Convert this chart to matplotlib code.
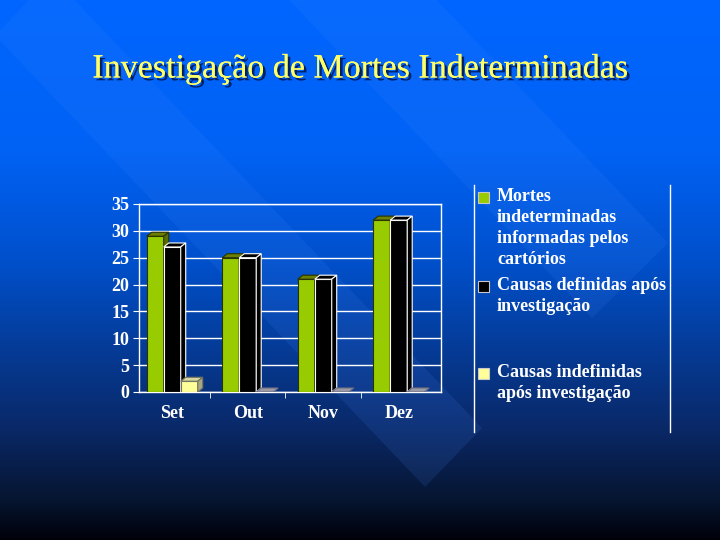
import numpy as np
import matplotlib
matplotlib.use('agg')
import matplotlib.pyplot as plt
from matplotlib.patches import Polygon, Rectangle
import matplotlib.patheffects as pe

# data
months = ['Set', 'Out', 'Nov', 'Dez']
mortes_cartorios = [29, 25, 21, 32]
causas_definidas = [27, 25, 21, 32]
causas_indefinidas = [2, 0, 0, 0]
series_names = ['Mortes\nindeterminadas\ninformadas pelos\ncartórios',
                'Causas definidas após\ninvestigação',
                'Causas indefinidas\napós investigação']
front_colors = ['#99cc00', '#000000', '#ffff99']
top_colors = ['#6b8000', '#000000', '#d6d6a0']
side_colors = ['#5a6b00', '#000000', '#a8a880']
edge_colors = ['#2b3300', '#ffffff', '#707060']

serif = 'Liberation Serif'
fig = plt.figure(figsize=(7.2, 5.4), dpi=100)

# slide background
bg = fig.add_axes([0, 0, 1, 1])
bg.set_xlim(0, 720)
bg.set_ylim(540, 0)
bg.axis('off')
ys = np.arange(540)
stops_y = [0, 150, 260, 430, 500, 540]
stops_c = np.array([[0, 102, 255], [0, 98, 245], [0, 80, 204],
                    [10, 40, 102], [6, 21, 48], [0, 0, 8]]) / 255
grad = np.stack([np.interp(ys, stops_y, stops_c[:, k]) for k in range(3)], axis=1)
img = np.repeat(grad[:, None, :], 720, axis=1)
bg.imshow(img, extent=(0, 720, 540, 0), aspect='auto', zorder=0)

# light diagonal stripes
for cap1, cap2, length in [((425, 487), (482, 428), 430), ((592, 318), (668, 243), 380)]:
    d = np.array([-1.0, -1.05]) * length
    pts = [cap1, cap2, (cap2[0] + d[0], cap2[1] + d[1]), (cap1[0] + d[0], cap1[1] + d[1])]
    bg.add_patch(Polygon(pts, closed=True, facecolor='#4a8cff', edgecolor='none',
                         alpha=0.12, zorder=1))

# title
bg.text(360, 69, 'Investigação de Mortes Indeterminadas', ha='center', va='center',
        fontsize=24.5, color='#ffff66', family=serif, zorder=5,
        path_effects=[pe.withSimplePatchShadow(offset=(2, -2), shadow_rgbFace='#001040', alpha=0.8),
                      pe.Normal()])

# chart area
ax = fig.add_axes([139 / 720, (540 - 392) / 540, 302 / 720, 188 / 540])
ax.patch.set_alpha(0)
ax.set_xlim(-0.44, 3.56)
ax.set_ylim(0, 35)
ax.set_yticks(range(0, 36, 5))
ax.yaxis.grid(True, color='white', lw=1)
ax.set_axisbelow(True)
for s in ax.spines.values():
    s.set_color('white')
    s.set_linewidth(1)

width = 0.225
dx = 5 / 75.5
dy = 4 / 5.37
x = np.arange(len(months))
all_series = [mortes_cartorios, causas_definidas, causas_indefinidas]
for j, vals in enumerate(all_series):
    xs = x + (j - 1) * width
    z = 3 + j
    ax.bar(xs, vals, width=width, color=front_colors[j], edgecolor=edge_colors[j],
           linewidth=0.8, zorder=z)
    for xi, v in zip(xs, vals):
        x0, x1 = xi - width / 2, xi + width / 2
        tc = top_colors[j] if v > 0 else '#9a9aa8'
        ec = edge_colors[j] if v > 0 else '#707080'
        ax.add_patch(Polygon([(x0, v), (x1, v), (x1 + dx, v + dy), (x0 + dx, v + dy)],
                             closed=True, facecolor=tc, edgecolor=ec, lw=0.8, zorder=z))
        if v > 0:
            ax.add_patch(Polygon([(x1, 0), (x1 + dx, dy), (x1 + dx, v + dy), (x1, v)],
                                 closed=True, facecolor=side_colors[j], edgecolor=ec,
                                 lw=0.8, zorder=z))

ax.set_xticks(x)
ax.set_xticklabels(months)
ax.set_xticks(x[:-1] + 0.5, minor=True)
ax.tick_params(axis='x', which='major', length=0, pad=9)
ax.tick_params(axis='x', which='minor', length=4, direction='out', color='white')
ax.tick_params(axis='y', length=4, direction='out', color='white', pad=3)
for lab in ax.get_xticklabels() + ax.get_yticklabels():
    lab.set_family(serif)
    lab.set_fontweight('bold')
    lab.set_fontsize(13)
    lab.set_color('white')

# legend
bg.plot([474, 474], [185, 432], color='white', lw=1, zorder=5)
bg.plot([670, 670], [185, 432], color='white', lw=1, zorder=5)
for name, col, ytop, ysq in zip(series_names, front_colors, [188, 277, 364], [197, 286, 373]):
    bg.add_patch(Rectangle((478, ysq - 5.5), 11, 11, facecolor=col, edgecolor='#c8c8c8',
                           lw=0.8, zorder=5))
    bg.text(497, ytop, name, ha='left', va='top', multialignment='left', fontsize=13,
            fontweight='bold', family=serif, color='white', linespacing=1.31, zorder=5)

fig.savefig('out.png', dpi=100)
